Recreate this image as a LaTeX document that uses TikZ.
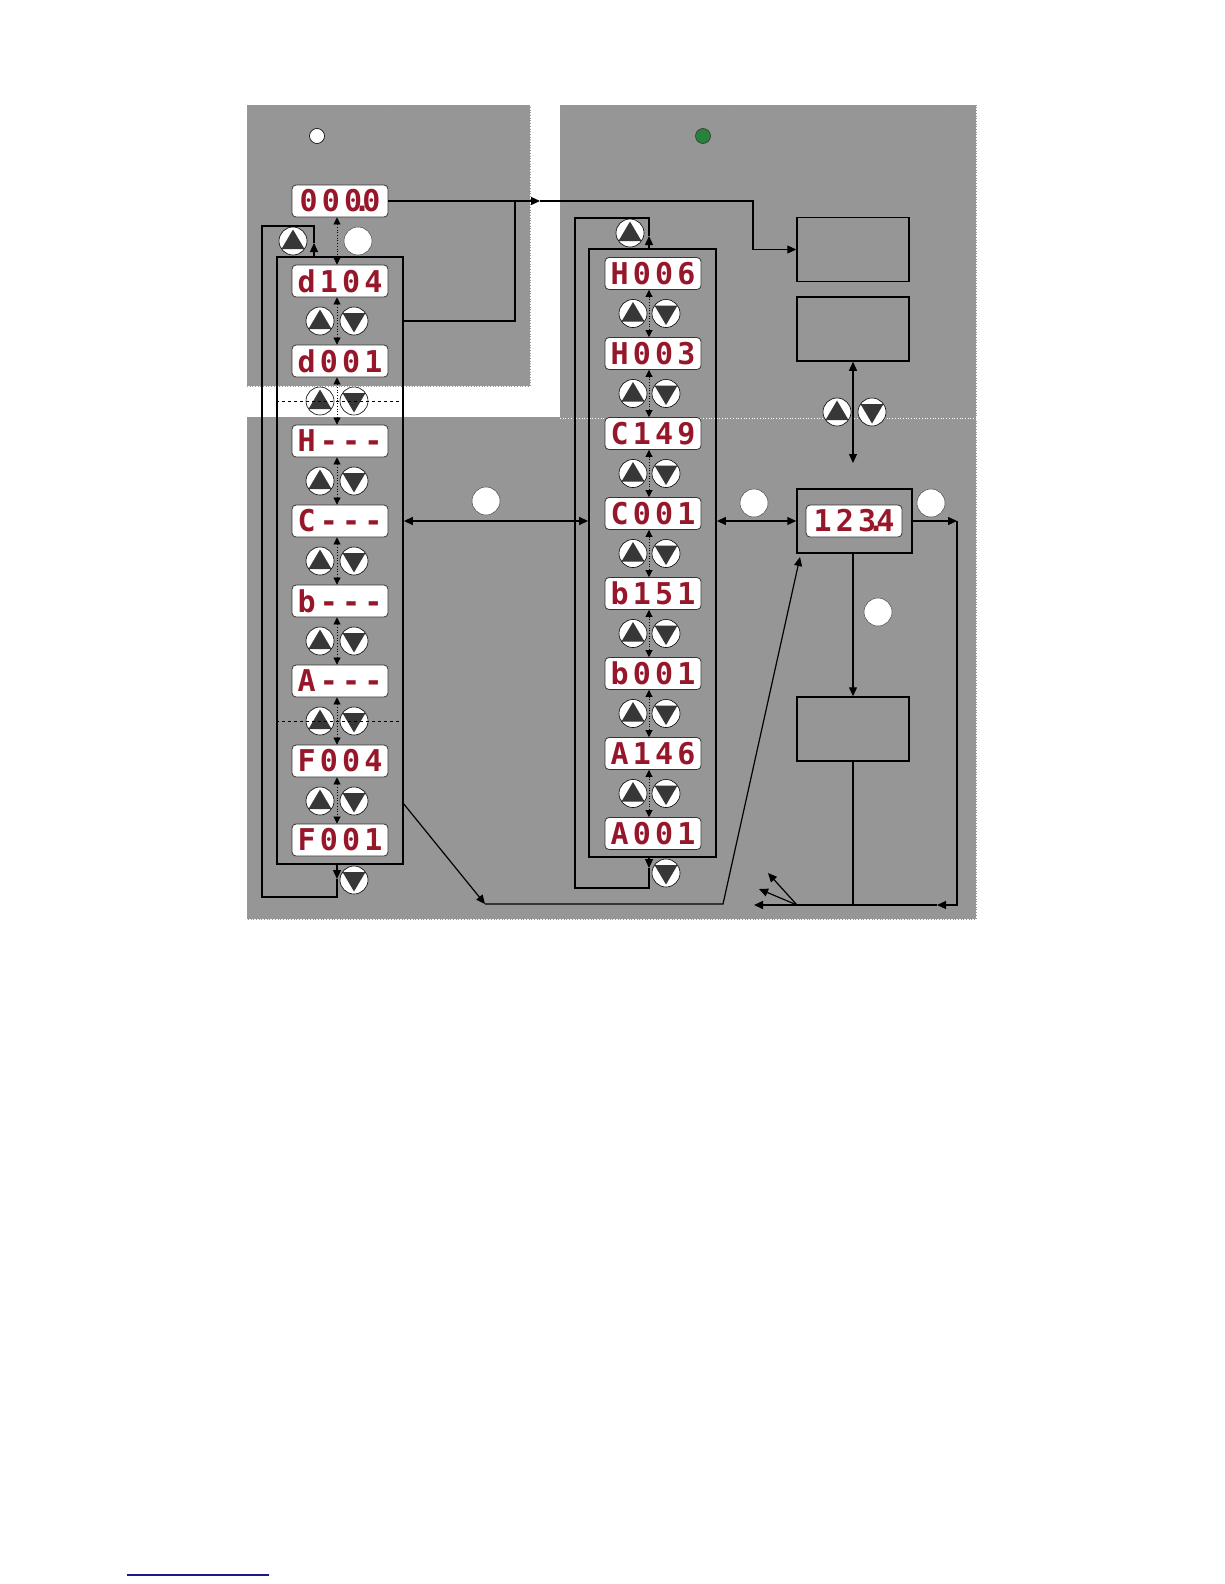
\documentclass[tikz,border=0pt]{standalone}
\usepackage{fontspec}
\newfontfamily\segfont[LetterSpace=14]{DejaVu Sans Mono Bold}
\usetikzlibrary{arrows.meta}
\definecolor{panelgray}{RGB}{150,150,150}
\definecolor{segred}{RGB}{150,22,42}
\definecolor{btngray}{RGB}{55,55,55}
\definecolor{ledgreen}{RGB}{40,130,60}
\definecolor{linkblue}{RGB}{25,25,140}
\newcommand{\dotp}{\kern-0.3em.\kern-0.3em}
\begin{document}
\begin{tikzpicture}[x=1pt,y=-1pt,
  >={Triangle[length=9pt,width=8pt]},
  disp/.style={draw=black!80, line width=0.8pt, fill=white, rounded corners=4pt,
    minimum width=96pt, minimum height=32pt, inner sep=0pt, text=segred,
    font=\segfont\fontsize{30}{30}\selectfont},
  frame/.style={draw=black, line width=1.8pt, inner sep=0pt},
  box/.style={draw=black, line width=1.5pt, inner sep=0pt, minimum width=112pt, minimum height=64pt},
  upbtn/.style={circle, draw=black, line width=0.6pt, fill=white, minimum size=28pt, inner sep=0pt,
    path picture={\fill[btngray, shift={(path picture bounding box.center)}] (0,-11.5) -- (11.5,8) -- (-11.5,8) -- cycle;}},
  dnbtn/.style={circle, draw=black, line width=0.6pt, fill=white, minimum size=28pt, inner sep=0pt,
    path picture={\fill[btngray, shift={(path picture bounding box.center)}] (0,11.5) -- (11.5,-8) -- (-11.5,-8) -- cycle;}},
  marker/.style={circle, draw=black!70, line width=0.5pt, fill=white, minimum size=28pt, inner sep=0pt},
  dotarrow/.style={{Triangle[length=7pt,width=7pt]}-{Triangle[length=7pt,width=7pt]}, dotted, line width=0.7pt},
  wire/.style={line width=1.2pt},
  panelborder/.style={dotted, draw=black!40, line width=0.7pt}
]
\useasboundingbox (0,0) rectangle (1224,1584);

% panels
\fill[panelgray] (247,105) rectangle (530,386);
\fill[panelgray] (560,105) rectangle (976,418);
\fill[panelgray] (247,417) rectangle (976,919);
\draw[panelborder] (247,105) rectangle (530,386);
\draw[panelborder] (560,105) -- (976,105) -- (976,919) -- (247,919) -- (247,417) -- (560,417) -- cycle;
\draw[dotted, white, line width=0.7pt] (560,418) -- (976,418);

% top indicator lamps
\node[circle, draw=black, line width=0.6pt, fill=white, minimum size=15pt, inner sep=0pt] (lampw) at (317,136) {};
\node[circle, draw=black!80, line width=0.6pt, fill=ledgreen, minimum size=15pt, inner sep=0pt] (lampg) at (703,136) {};

% frames
\node[frame, minimum width=126pt, minimum height=607pt] (LF) at (340,560.5) {};
\node[frame, minimum width=127pt, minimum height=608pt] (RF) at (652.5,553) {};

% left displays
\node[disp] (L0) at (340,201) {000\dotp0};
\node[disp] (L1) at (340,281) {d104};
\node[disp] (L2) at (340,361) {d001};
\node[disp] (L3) at (340,441) {H---};
\node[disp] (L4) at (340,521) {C---};
\node[disp] (L5) at (340,601) {b---};
\node[disp] (L6) at (340,681) {A---};
\node[disp] (L7) at (340,761) {F004};
\node[disp] (L8) at (340,840) {F001};

% right displays
\node[disp] (R1) at (653,273.5) {H006};
\node[disp] (R2) at (653,353.5) {H003};
\node[disp] (R3) at (653,433.5) {C149};
\node[disp] (R4) at (653,513.5) {C001};
\node[disp] (R5) at (653,593.5) {b151};
\node[disp] (R6) at (653,673.5) {b001};
\node[disp] (R7) at (653,753.5) {A146};
\node[disp] (R8) at (653,833.5) {A001};

% boxes
\node[box] (B1) at (853,249.5) {};
\node[box] (B2) at (853,329) {};
\node[box, minimum width=115pt] (B4) at (854.5,521) {};
\node[box] (B3) at (853,729) {};
\node[disp] (D4) at (854,521) {123\dotp4};

% dotted arrows between displays
\foreach \a/\b in {L0/L1,L1/L2,L2/L3,L3/L4,L4/L5,L5/L6,L6/L7,L7/L8}
  \draw[dotarrow] ([xshift=-3pt]\a.south) -- ([xshift=-3pt]\b.north);
\foreach \a/\b in {R1/R2,R2/R3,R3/R4,R4/R5,R5/R6,R6/R7,R7/R8}
  \draw[dotarrow] ([xshift=-4pt]\a.south) -- ([xshift=-4pt]\b.north);

% buttons left
\node[upbtn] (lu0) at (293,241) {};
\foreach \i/\y in {1/321,2/401,3/481,4/561,5/641,6/721,7/801} {
  \node[upbtn] (lu\i) at (320,\y) {};
  \node[dnbtn] (ld\i) at (354,\y) {};
}
\node[dnbtn] (ld8) at (354,880) {};

% buttons right
\node[upbtn] (ru0) at (630,233) {};
\foreach \i/\y in {1/313.5,2/393.5,3/473.5,4/553.5,5/633.5,6/713.5,7/793.5} {
  \node[upbtn] (ru\i) at (633,\y) {};
  \node[dnbtn] (rd\i) at (666,\y) {};
}
\node[dnbtn] (rd8) at (666,873) {};

% buttons at B2
\node[upbtn] (bu) at (837,412) {};
\node[dnbtn] (bd) at (872,412) {};

% dashed group separators
\coordinate (dl1) at (340,401);
\coordinate (dl2) at (340,721);
\draw[dashed, line width=0.6pt] (LF.west |- dl1) -- (LF.east |- dl1);
\draw[dashed, line width=0.6pt] (LF.west |- dl2) -- (LF.east |- dl2);

% marker circles
\node[marker] (W1) at (358,241) {};
\node[marker] (W2) at (486,501) {};
\node[marker] (W3) at (754,503) {};
\node[marker] (W4) at (931,503) {};
\node[marker] (W5) at (878,612) {};

% connectors
\coordinate (a1) at (540,201);
\coordinate (a2) at (753,201);
\draw[wire,->] (L0.east |- a1) -- (a1);
\draw[wire,->] (a1) -- (a2) |- (B1.west);
\coordinate (j1) at (515,201);
\coordinate (j2) at (403,321);
\draw[wire] (j2) -| (j1);

\coordinate (k1) at (853,463);
\draw[wire,<->] (B2.south) -- (k1);

\draw[wire,<->] (LF.east |- L4) -- (RF.west |- L4);
\draw[wire,<->] (RF.east |- B4) -- (B4.west);

\coordinate (r1) at (957,521);
\coordinate (r2) at (957,905);
\coordinate (r3) at (937,905);
\coordinate (e1) at (754,905);
\draw[wire,->] (B4.east) -- (r1);
\draw[wire,->] (r1) -- (r2) -- (r3);
\draw[wire,line width=1.6pt,->] (r3) -- (e1);

\draw[wire,->] (B4.south -| B3.north) -- (B3.north);
\draw[wire] (B3.south) -- (B3.south |- r2);

\coordinate (f0) at (797,905);
\coordinate (f1) at (768,873);
\coordinate (f2) at (759,889);
\draw[wire,->] (f0) -- (f1);
\draw[wire,->] (f0) -- (f2);

\coordinate (g0) at (403,803);
\coordinate (g1) at (485,904);
\coordinate (g2) at (723,904);
\coordinate (g3) at (800,557);
\draw[wire,->] (g0) -- (g1);
\draw[wire,->] (g1) -- (g2) -- (g3);

% left wrap-around loop
\coordinate (lt) at (337,879);
\coordinate (lb) at (337,897);
\coordinate (lc) at (262,897);
\coordinate (ldd) at (262,226);
\coordinate (le) at (314,226);
\coordinate (lf) at (314,243);
\draw[wire,->] (LF.south -| lt) -- (lt);
\draw[wire] (lt) -- (lb) -- (lc) -- (ldd) -- (le) -- (lf);
\draw[wire,<-] (lf) -- (LF.north -| lf);

% right wrap-around loop
\coordinate (rt) at (649,868);
\coordinate (rb) at (649,888);
\coordinate (rc) at (575,888);
\coordinate (rdd) at (575,218);
\coordinate (re) at (649,218);
\coordinate (rf) at (649,236);
\draw[wire,->] (RF.south -| rt) -- (rt);
\draw[wire] (rt) -- (rb) -- (rc) -- (rdd) -- (re) -- (rf);
\draw[wire,<-] (rf) -- (RF.north -| rf);

% footer rule
\coordinate (bl1) at (127,1575);
\coordinate (bl2) at (269,1575);
\draw[linkblue, line width=1.2pt] (bl1) -- (bl2);
\end{tikzpicture}
\end{document}
